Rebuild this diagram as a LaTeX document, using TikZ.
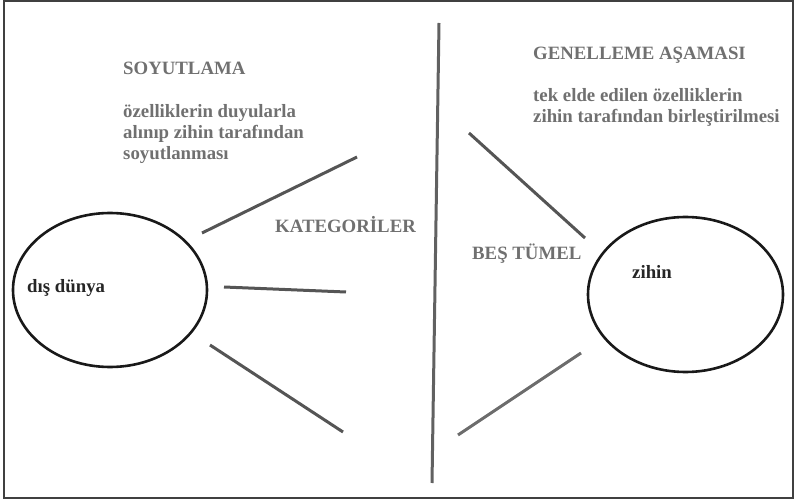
\documentclass[tikz,border=0pt]{standalone}
\usepackage{fontspec}
\setmainfont{Liberation Serif}
\usetikzlibrary{shapes.geometric}

\definecolor{textgray}{RGB}{112,112,112}
\definecolor{linegray}{RGB}{85,85,85}
\definecolor{lightline}{RGB}{108,108,108}

\tikzset{
  lbl/.style={anchor=base west, inner sep=0pt, text=textgray,
    font=\fontsize{18.8}{21}\selectfont\bfseries},
  dark/.style={anchor=base west, inner sep=0pt, text=black!85,
    font=\fontsize{18.8}{21}\selectfont\bfseries},
  world/.style={draw=black!90, ellipse, line width=2.6pt, inner sep=0pt},
  ray/.style={draw=linegray, line width=3pt}
}

\begin{document}
\begin{tikzpicture}[x=1pt,y=-1pt]
    \useasboundingbox (0,0) rectangle (797,502);
    % Frame
    \draw[black!75, line width=1.3pt] (4,1) rectangle (793,498);

    % Outer world and mind
    \node[world, minimum width=194pt, minimum height=154pt] (dunya) at (110,290) {};
    \node[world, minimum width=195pt, minimum height=155pt] (zihin) at (685.5,294.5) {};
    \node[dark] (dunyatxt) at (27,293) {dış dünya};
    \node[dark] (zihintxt) at (632,279) {zihin};

    % Headings, one node per line
    \node[lbl] (soyut) at (123,75) {SOYUTLAMA};
    \node[lbl] (soyut1) at (123,118) {özelliklerin duyularla};
    \node[lbl] (soyut2) at (123,139) {alınıp zihin tarafından};
    \node[lbl] (soyut3) at (123,160) {soyutlanması};
    \node[lbl] (genel) at (533,60) {GENELLEME AŞAMASI};
    \node[lbl] (genel1) at (533,102) {tek elde edilen özelliklerin};
    \node[lbl] (genel2) at (533,123) {zihin tarafından birleştirilmesi};
    \node[lbl] (kat) at (275,233) {KATEGORİLER};
    \node[lbl] (bes) at (472,260) {BEŞ TÜMEL};

    % Divider
    \coordinate (ust) at (439,23);
    \coordinate (alt) at (432,483);
    \draw[draw=black!62, line width=3pt] (ust) -- (alt);

    % Rays out of the world
    \coordinate (a1) at (202,233); \coordinate (b1) at (357,157);
    \coordinate (a2) at (224,287); \coordinate (b2) at (346,292);
    \coordinate (a3) at (210,345); \coordinate (b3) at (343,432);
    \draw[ray] (a1) -- (b1);
    \draw[ray] (a2) -- (b2);
    \draw[ray] (a3) -- (b3);

    % Rays into the mind
    \coordinate (c1) at (469,133); \coordinate (d1) at (585,238);
    \coordinate (c2) at (458,435); \coordinate (d2) at (581,353);
    \draw[ray] (c1) -- (d1);
    \draw[ray, draw=lightline] (c2) -- (d2);
\end{tikzpicture}
\end{document}
